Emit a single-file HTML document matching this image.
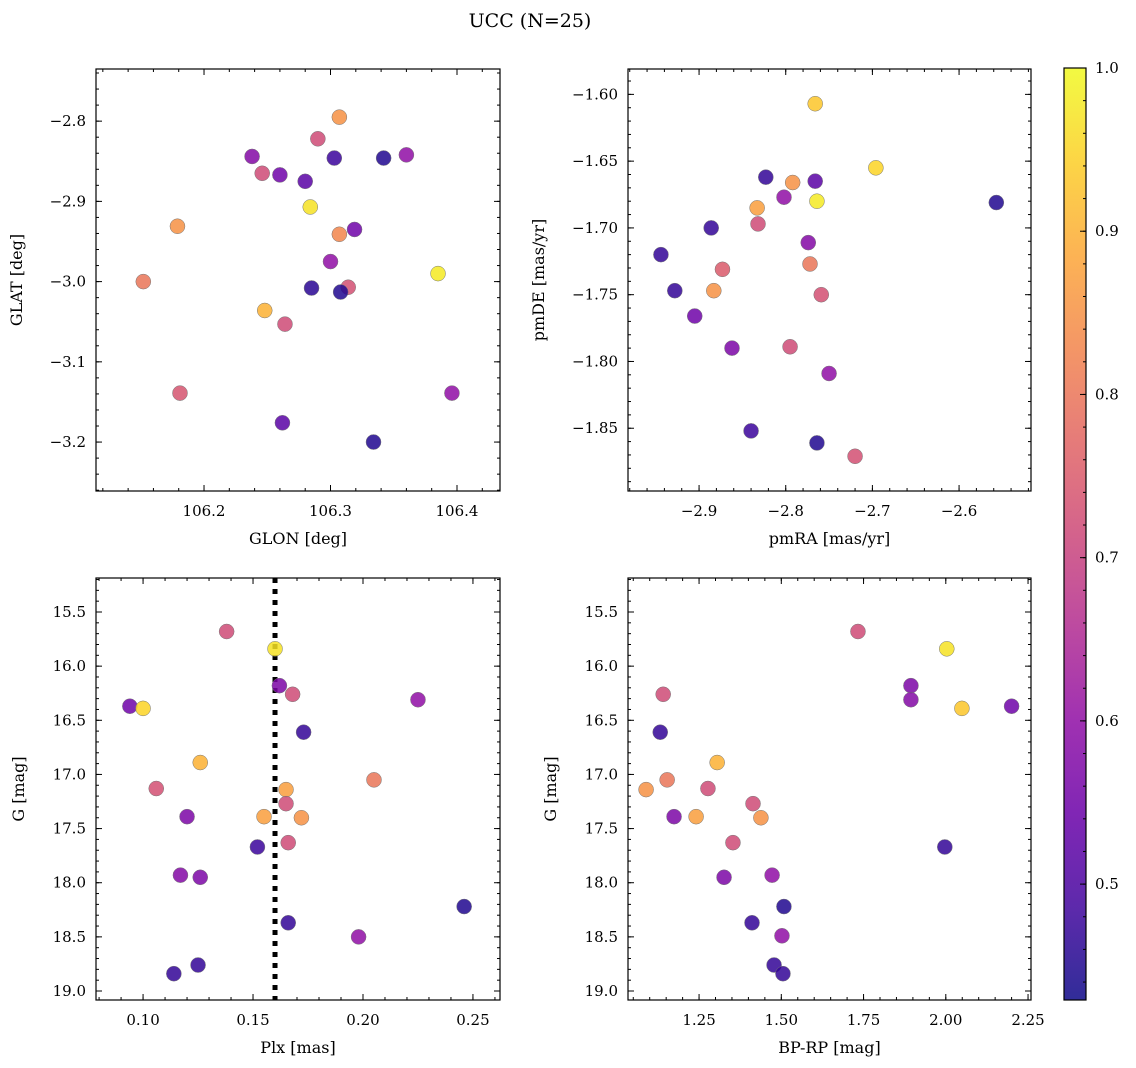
<!DOCTYPE html>
<html><head><meta charset="utf-8"><style>
body{margin:0;background:#fff}
svg{display:block;font-family:"DejaVu Serif","Liberation Serif",serif}
</style></head><body>
<svg id="fig" width="1136" height="1068" viewBox="0 0 1136 1068">
<text x="530" y="27" text-anchor="middle" font-size="19">UCC (N=25)</text>
</svg>
<script>
// ---- data ----
const prob1 = [0.85,0.72,0.58,0.72,0.55,0.52,0.48,0.45,0.60,0.97,0.85,0.83,0.55,0.60,0.98,0.80,0.73,0.46,0.45,0.90,0.72,0.74,0.60,0.52,0.45];
const glon = [106.307,106.290,106.238,106.246,106.260,106.280,106.303,106.342,106.360,106.284,106.179,106.307,106.319,106.300,106.385,106.152,106.314,106.285,106.308,106.248,106.264,106.181,106.396,106.262,106.334];
const glat = [-2.795,-2.822,-2.844,-2.865,-2.867,-2.875,-2.846,-2.846,-2.842,-2.907,-2.931,-2.941,-2.935,-2.975,-2.990,-3.000,-3.007,-3.008,-3.013,-3.036,-3.053,-3.139,-3.139,-3.176,-3.200];
const prob2 = [0.93,0.95,0.85,0.47,0.52,0.45,0.98,0.87,0.60,0.47,0.72,0.47,0.58,0.75,0.80,0.47,0.85,0.73,0.55,0.57,0.72,0.60,0.48,0.45,0.73];
const pmra = [-2.766,-2.696,-2.792,-2.823,-2.766,-2.557,-2.764,-2.833,-2.802,-2.886,-2.832,-2.944,-2.774,-2.873,-2.772,-2.928,-2.883,-2.759,-2.905,-2.862,-2.795,-2.750,-2.840,-2.764,-2.720];
const pmde = [-1.607,-1.655,-1.666,-1.662,-1.665,-1.681,-1.680,-1.685,-1.677,-1.700,-1.697,-1.720,-1.711,-1.731,-1.727,-1.747,-1.747,-1.750,-1.766,-1.790,-1.789,-1.809,-1.852,-1.861,-1.871];
const prob3 = [0.72,0.97,0.57,0.72,0.55,0.95,0.60,0.47,0.90,0.73,0.80,0.87,0.72,0.87,0.85,0.57,0.72,0.48,0.58,0.57,0.47,0.45,0.60,0.47,0.47];
const plx = [0.138,0.160,0.162,0.168,0.094,0.100,0.225,0.173,0.126,0.106,0.205,0.165,0.165,0.155,0.172,0.120,0.166,0.152,0.117,0.126,0.166,0.246,0.198,0.125,0.114];
const gmag3 = [15.68,15.84,16.18,16.26,16.37,16.39,16.31,16.61,16.89,17.13,17.05,17.14,17.27,17.39,17.40,17.39,17.63,17.67,17.93,17.95,18.37,18.22,18.50,18.76,18.84];
const prob4 = [0.72,0.97,0.57,0.58,0.55,0.93,0.72,0.47,0.90,0.85,0.80,0.57,0.72,0.72,0.87,0.85,0.72,0.47,0.57,0.60,0.45,0.47,0.60,0.47,0.47];
const bprp = [1.733,2.003,1.894,1.894,2.200,2.049,1.141,1.132,1.305,1.089,1.153,1.174,1.277,1.414,1.241,1.438,1.353,1.997,1.326,1.472,1.508,1.411,1.502,1.478,1.505];
const gmag4 = [15.68,15.84,16.18,16.31,16.37,16.39,16.26,16.61,16.89,17.14,17.05,17.39,17.13,17.27,17.39,17.40,17.63,17.67,17.95,17.93,18.22,18.37,18.49,18.76,18.84];
const plxLine = 0.16;
const cbTicks = [0.5,0.6,0.7,0.8,0.9,1.0];
const vmin = 0.429, vmax = 1.0;

const NS="http://www.w3.org/2000/svg";
const svg=document.getElementById('fig');
function mk(tag,attrs,parent){const e=document.createElementNS(NS,tag);for(const k in attrs)e.setAttribute(k,attrs[k]);(parent||svg).appendChild(e);return e;}
const stops=["#0d0887","#41049d","#6a00a8","#8f0da4","#b12a90","#cc4778","#e16462","#f2844b","#fca636","#fcce25","#f0f921"];
function hex(h){return [1,3,5].map(i=>parseInt(h.substr(i,2),16));}
function plasma(t){t=Math.max(0,Math.min(1,t));const f=t*10,i=Math.min(9,Math.floor(f)),r=f-i;const a=hex(stops[i]),b=hex(stops[i+1]);return 'rgb('+a.map((v,k)=>Math.round(v+(b[k]-v)*r)).join(',')+')';}
function cmap(v){return plasma((v-vmin)/(vmax-vmin));}
function fmt(v,d){const s=Math.abs(v).toFixed(d);return (v<-1e-9?'\u2212':'')+s;}

function panel(o){
  const g=mk('g',{});
  
  
  const sx=v=>o.x0+(v-o.xd[0])/(o.xd[1]-o.xd[0])*(o.x1-o.x0);
  const sy=v=>o.y0+(v-o.yd[0])/(o.yd[1]-o.yd[0])*(o.y1-o.y0);
  const tg=mk('g',{stroke:'#000','stroke-width':1},g);
  function ticks(step,len,axis){
    const d=axis==='x'?o.xd:o.yd;const lo=Math.min(d[0],d[1]),hi=Math.max(d[0],d[1]);
    for(let k=Math.ceil(lo/step-1e-6);k*step<=hi+1e-9;k++){const v=k*step;
      if(axis==='x'){const x=sx(v);mk('line',{x1:x,x2:x,y1:o.y1,y2:o.y1-len},tg);mk('line',{x1:x,x2:x,y1:o.y0,y2:o.y0+len},tg);}
      else{const y=sy(v);mk('line',{x1:o.x0,x2:o.x0+len,y1:y,y2:y},tg);mk('line',{x1:o.x1,x2:o.x1-len,y1:y,y2:y},tg);}
    }
  }
  ticks(o.xmin,3,'x');ticks(o.xmaj,6,'x');ticks(o.ymin,3,'y');ticks(o.ymaj,6,'y');
  o.xt.forEach(v=>{const t=mk('text',{x:sx(v),y:o.y1+25,'text-anchor':'middle','font-size':15},g);t.textContent=fmt(v,o.xdec);
    
    });
  o.yt.forEach(v=>{const t=mk('text',{x:o.x0-10,y:sy(v)+5,'text-anchor':'end','font-size':15},g);t.textContent=fmt(v,o.ydec);
    
    });
  const xl=mk('text',{x:(o.x0+o.x1)/2,y:o.y1+53,'text-anchor':'middle','font-size':16},g);xl.textContent=o.xlab;
  
  
  const ly=(o.y0+o.y1)/2;
  const yl=mk('text',{x:o.ylx,y:ly,'text-anchor':'middle','font-size':16,transform:'rotate(-90 '+o.ylx+' '+ly+')'},g);yl.textContent=o.ylab;
  
  
  if(o.vline!==undefined){const l=mk('line',{x1:sx(o.vline),x2:sx(o.vline),y1:o.y0,y2:o.y1,stroke:'#000','stroke-width':5,'stroke-dasharray':'5 6'},g);
    
    }
  o.xs.forEach((v,i)=>{const c=mk('circle',{cx:sx(v),cy:sy(o.ys[i]),r:7.5,fill:cmap(o.cs[i]),'fill-opacity':0.85,stroke:'#777','stroke-width':0.5},g);
    
    });
  const fr=mk('rect',{x:o.x0,y:o.y0,width:o.x1-o.x0,height:o.y1-o.y0,fill:'none',stroke:'#000','stroke-width':1.2},g);
  
  
}
panel({name:'glon-glat-panel',x0:96,x1:500,y0:69,y1:491,xd:[106.1146,106.434],yd:[-2.735,-3.261],xmaj:0.1,xmin:0.02,ymaj:0.1,ymin:0.02,
  xt:[106.2,106.3,106.4],yt:[-2.8,-2.9,-3.0,-3.1,-3.2],xdec:1,ydec:1,xlab:'GLON [deg]',ylab:'GLAT [deg]',ylx:22,xs:glon,ys:glat,cs:prob1});
panel({name:'pmra-pmde-panel',x0:628,x1:1031,y0:69,y1:491,xd:[-2.982,-2.517],yd:[-1.581,-1.897],xmaj:0.1,xmin:0.02,ymaj:0.05,ymin:0.01,
  xt:[-2.9,-2.8,-2.7,-2.6],yt:[-1.60,-1.65,-1.70,-1.75,-1.80,-1.85],xdec:1,ydec:2,xlab:'pmRA [mas/yr]',ylab:'pmDE [mas/yr]',ylx:544,xs:pmra,ys:pmde,cs:prob2});
panel({name:'plx-g-panel',x0:96,x1:500,y0:578,y1:1000,xd:[0.0786,0.2623],yd:[15.186,19.083],xmaj:0.05,xmin:0.01,ymaj:0.5,ymin:0.1,
  xt:[0.10,0.15,0.20,0.25],yt:[15.5,16.0,16.5,17.0,17.5,18.0,18.5,19.0],xdec:2,ydec:1,xlab:'Plx [mas]',ylab:'G [mag]',ylx:24,vline:plxLine,xs:plx,ys:gmag3,cs:prob3});
panel({name:'bprp-g-panel',x0:628,x1:1031,y0:578,y1:1000,xd:[1.034,2.259],yd:[15.186,19.083],xmaj:0.25,xmin:0.05,ymaj:0.5,ymin:0.1,
  xt:[1.25,1.50,1.75,2.00,2.25],yt:[15.5,16.0,16.5,17.0,17.5,18.0,18.5,19.0],xdec:2,ydec:1,xlab:'BP-RP [mag]',ylab:'G [mag]',ylx:556,xs:bprp,ys:gmag4,cs:prob4});

// colorbar
const cb=mk('g',{});


const defs=mk('defs',{},cb);
const lg=mk('linearGradient',{id:'pl',x1:0,y1:1,x2:0,y2:0},defs);
for(let i=0;i<=20;i++){const t=i/20;mk('stop',{offset:t,'stop-color':plasma(t)},lg);}
const cx0=1064,cx1=1086,cy0=68,cy1=1000;
mk('rect',{x:cx0,y:cy0,width:cx1-cx0,height:cy1-cy0,fill:'url(#pl)','fill-opacity':0.85},cb);
mk('rect',{x:cx0,y:cy0,width:cx1-cx0,height:cy1-cy0,fill:'none',stroke:'#000','stroke-width':1.2},cb);
const cy=v=>cy1-(v-vmin)/(vmax-vmin)*(cy1-cy0);
for(let v=0.44;v<=1.0001;v+=0.02){mk('line',{x1:cx1,x2:cx1-3,y1:cy(v),y2:cy(v),stroke:'#000'},cb);}
cbTicks.forEach(v=>{mk('line',{x1:cx1,x2:cx1-6,y1:cy(v),y2:cy(v),stroke:'#000'},cb);
  const t=mk('text',{x:cx1+9,y:cy(v)+5,'font-size':15},cb);t.textContent=v.toFixed(1);
  
  });
</script>
</body></html>
